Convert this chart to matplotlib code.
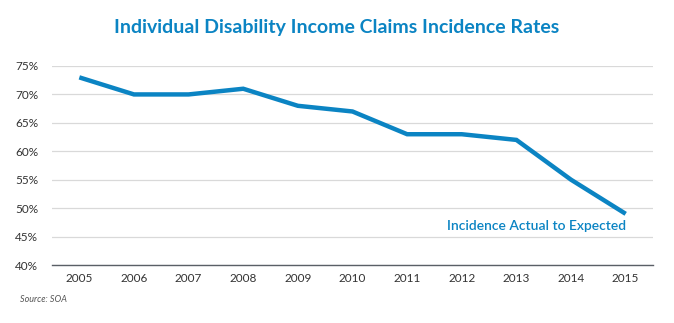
import matplotlib
matplotlib.use("Agg")
import matplotlib.pyplot as plt

years = ["2005", "2006", "2007", "2008", "2009", "2010", "2011", "2012", "2013", "2014", "2015"]
rates = [73, 70, 70, 71, 68, 67, 63, 63, 62, 55, 49]
yticks = [40, 45, 50, 55, 60, 65, 70, 75]

blue = "#0b84c3"
fig = plt.figure(figsize=(6.74, 3.23), dpi=100)
ax = fig.add_axes([52/674, 1 - 265/323, (653-52)/674, (265-66)/323])

x = list(range(len(years)))
ax.plot(x, rates, color=blue, lw=3.2, solid_capstyle="butt", solid_joinstyle="miter", zorder=3)
ax.set_xlim(-0.5, len(years) - 0.5)
ax.set_ylim(40, 75)
ax.set_yticks(yticks)
ax.set_yticklabels([f"{v}%" for v in yticks])
ax.set_xticks(x)
ax.set_xticklabels(years)
ax.grid(axis="y", color="#d9d9d9", lw=0.9)
ax.set_axisbelow(True)
for s in ["top", "right", "left"]:
    ax.spines[s].set_visible(False)
ax.spines["bottom"].set_color("#5a5f66")
ax.spines["bottom"].set_linewidth(1.0)
ax.tick_params(axis="both", length=0, labelsize=8.5, labelcolor="#333333")
ax.tick_params(axis="y", pad=10)
ax.tick_params(axis="x", pad=6)
for lab in ax.get_xticklabels() + ax.get_yticklabels():
    lab.set_family(["Lato", "DejaVu Sans"])

ax.text(len(years) - 1, 46.9, "Incidence Actual to Expected", ha="right", va="center",
        color=blue, fontsize=10, family=["Lato", "DejaVu Sans"], fontweight="semibold")

fig.text(0.5, 1 - 28/323, "Individual Disability Income Claims Incidence Rates", ha="center", va="center",
         color=blue, fontsize=14, family=["Lato", "DejaVu Sans"], fontweight="bold")
fig.text(20/674, 1 - 300/323, "Source: SOA", ha="left", va="center", color="#555555",
         fontsize=6.5, style="italic", family=["Lato", "DejaVu Sans"])

fig.savefig("out.png", dpi=100)
